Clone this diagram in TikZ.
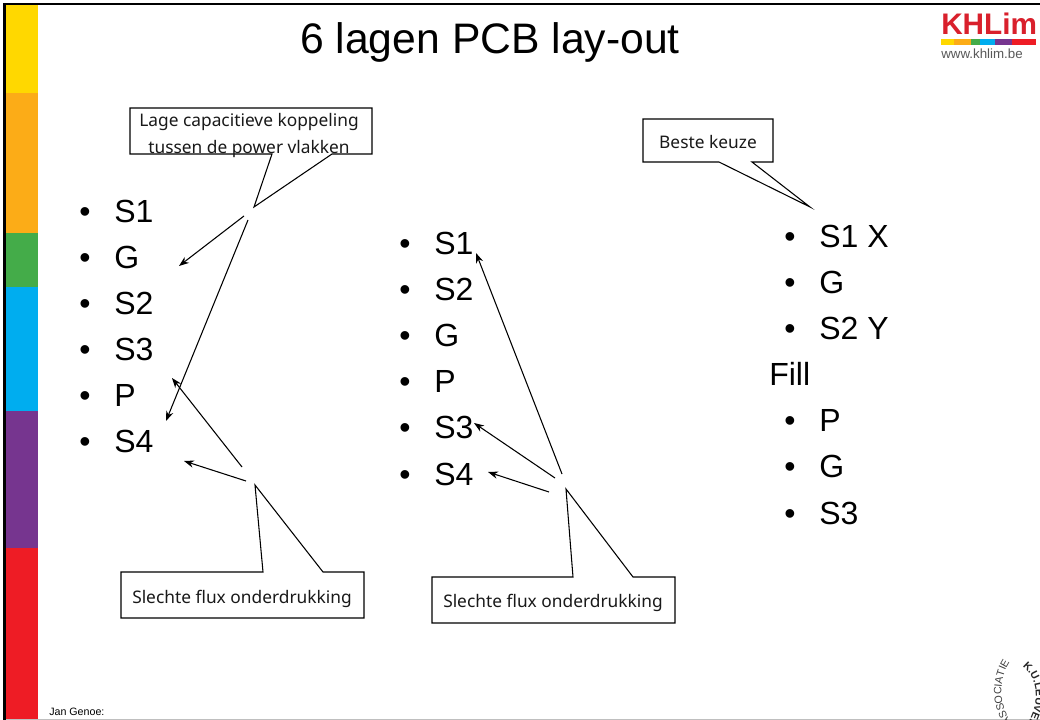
\documentclass[tikz,border=0pt]{standalone}
\usepackage{fontspec}
\setmainfont{Liberation Sans}
\newfontfamily\callfont{Noto Sans}
\usetikzlibrary{arrows.meta,decorations.text}
\tikzset{
  x=0.75pt,y=-0.75pt,
  bar/.style={fill=#1,draw=none},
  callout/.style={draw=black,fill=white,line width=0.8pt,line join=miter},
  calltext/.style={font=\callfont\fontsize{13}{20.3}\selectfont,align=center,inner sep=0pt,text=black!90},
  pointer/.style={draw=black,line width=0.8pt,-{Stealth[length=7.5pt,width=5.5pt]}},
  item/.style={font=\fontsize{24}{26}\selectfont,anchor=base west,inner sep=0pt},
  bul/.style={font=\fontsize{24}{26}\selectfont,anchor=base,inner sep=0pt},
}
\definecolor{cyel}{HTML}{FFD800}
\definecolor{cora}{HTML}{FCAC17}
\definecolor{cgre}{HTML}{44AC49}
\definecolor{cblu}{HTML}{00ADEF}
\definecolor{cpur}{HTML}{76358F}
\definecolor{cred}{HTML}{EE1C25}
\definecolor{logored}{HTML}{D9202C}
\newcommand{\listitem}[5]{%
  \node[bul] (#1b) at (#2,#4) {•};
  \node[item] (#1) at (#3,#4) {#5};}
\begin{document}
\begin{tikzpicture}
\useasboundingbox (0,0) rectangle (1040,720);
\clip (0,0) rectangle (1040,720);
\fill[white] (0,0) rectangle (1040,720);
% frame
\fill[black] (3,3) rectangle (1040,5);
\fill[black] (3,3) rectangle (6,720);
\fill[black!25] (6,718.5) rectangle (1040,720);
% colour bar
\fill[bar=cyel] (6,5) rectangle (38,93);
\fill[bar=cora] (6,93) rectangle (38,233);
\fill[bar=cgre] (6,233) rectangle (38,287);
\fill[bar=cblu] (6,287) rectangle (38,411);
\fill[bar=cpur] (6,411) rectangle (38,548);
\fill[bar=cred] (6,548) rectangle (38,719);
% title
\node[inner sep=0pt,anchor=base,font=\fontsize{32}{36}\selectfont] (title) at (490,54) {6 lagen PCB lay-out};
\node[inner sep=0pt,anchor=base west,font=\fontsize{8}{10}\selectfont] (author) at (49,715) {Jan Genoe:};
% logo
\node[inner sep=0pt,anchor=base west,text=logored,font=\bfseries\fontsize{22.3}{24}\selectfont] (logo) at (941,35) {KHLim};
\foreach \a/\b/\c in {941/954/cyel,954/971/cora,971/980/cgre,980/995/cblu,995/1012/cpur,1012/1036/cred}
  \fill[\c] (\a,39.5) rectangle (\b,45.5);
\node[inner sep=0pt,anchor=base west,text=black!65,font=\fontsize{10}{12}\selectfont] (url) at (941,59) {www.khlim.be};
% seal
\path[decorate,decoration={text along path,text align=center,text={|\fontsize{8}{10}\selectfont\color{black!75}|ASSOCIATIE}}]
  (1016,727) .. controls (997,710) and (997,674) .. (1014,657);
\path[decorate,decoration={text along path,text align=center,text={|\bfseries\fontsize{8}{10}\selectfont\color{black!85}|K.U.LEUVEN}}]
  (1019,664) .. controls (1040,676) and (1041,708) .. (1024,728);
% lists
\listitem{a1}{85}{114}{223}{S1}
\listitem{a2}{85}{114}{269}{G}
\listitem{a3}{85}{114}{315}{S2}
\listitem{a4}{85}{114}{361}{S3}
\listitem{a5}{85}{114}{407}{P}
\listitem{a6}{85}{114}{453}{S4}
\listitem{b1}{405}{434}{255}{S1}
\listitem{b2}{405}{434}{301}{S2}
\listitem{b3}{405}{434}{347}{G}
\listitem{b4}{405}{434}{393}{P}
\listitem{b5}{405}{434}{439}{S3}
\listitem{b6}{405}{434}{485}{S4}
\listitem{c1}{790}{819}{248}{S1 X}
\listitem{c2}{790}{819}{294}{G}
\listitem{c3}{790}{819}{340}{S2 Y}
\node[item] (c4) at (769,386) {Fill};
\listitem{c5}{790}{819}{432}{P}
\listitem{c6}{790}{819}{478}{G}
\listitem{c7}{790}{819}{524}{S3}
% callouts
\draw[callout] (130,108) -- (372,108) -- (372,154) -- (332,154) -- (254,207) -- (272,154) -- (130,154) -- cycle;
\node[calltext] (t1) at (249,135.5) {Lage capacitieve koppeling\\tussen de power vlakken};
\draw[callout] (121,572) -- (263,572) -- (255,485) -- (323,572) -- (364,572) -- (364,618) -- (121,618) -- cycle;
\node[calltext] (t2) at (242,598.5) {Slechte flux onderdrukking};
\draw[callout] (432,577) -- (573,577) -- (566,489) -- (633,577) -- (675,577) -- (675,623) -- (432,623) -- cycle;
\node[calltext] (t3) at (553,603) {Slechte flux onderdrukking};
\draw[callout] (643,119) -- (773,119) -- (773,162) -- (752,162) -- (810,207) -- (719,162) -- (643,162) -- cycle;
\node[calltext] (t4) at (708,142.5) {Beste keuze};
% pointers
\coordinate (p1s) at (244,216); \coordinate (p1e) at (179,266);
\coordinate (p2s) at (248,220); \coordinate (p2e) at (166,421);
\coordinate (p3s) at (242,467); \coordinate (p3e) at (172,378);
\coordinate (p4s) at (246,481); \coordinate (p4e) at (184,461);
\coordinate (p5s) at (562,474); \coordinate (p5e) at (476,253);
\coordinate (p6s) at (555,478); \coordinate (p6e) at (474,423);
\coordinate (p7s) at (549,492); \coordinate (p7e) at (488,472);
\foreach \i in {1,...,7} \draw[pointer] (p\i s) -- (p\i e);
\end{tikzpicture}
\end{document}
